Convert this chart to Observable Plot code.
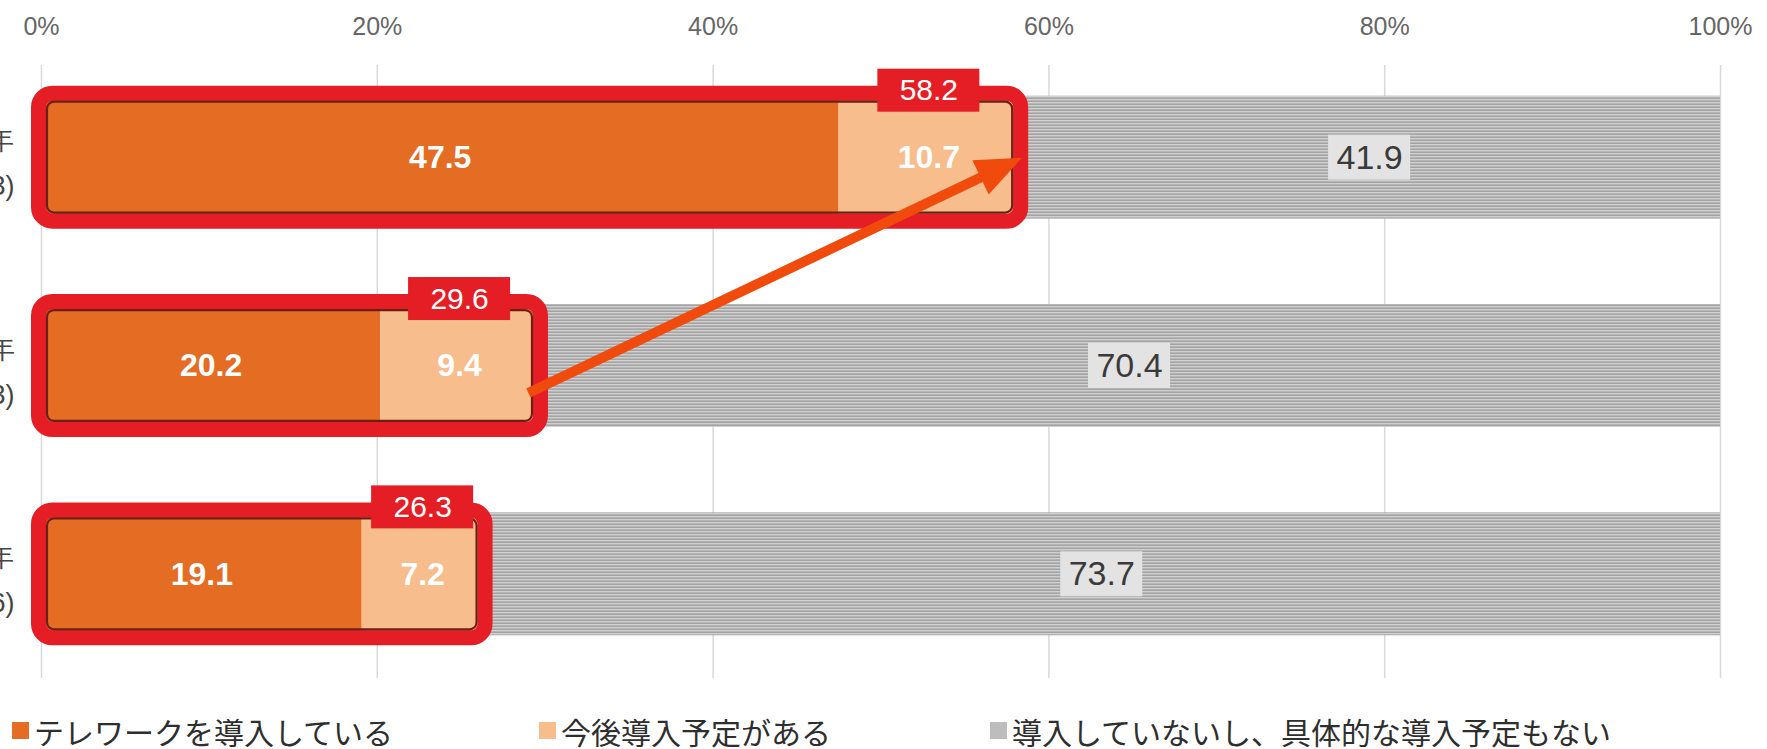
<!DOCTYPE html>
<html>
<head>
<meta charset="utf-8">
<script src="https://cdn.jsdelivr.net/npm/d3@7"></script>
<script src="https://cdn.jsdelivr.net/npm/@observablehq/plot@0.6"></script>
<style>
  html, body { margin: 0; padding: 0; background: #fff; }
  body { width: 1767px; height: 749px; overflow: hidden; font-family: "Liberation Sans", Arial, sans-serif; }
  #legend { position: relative; height: 49px; }
  .item { position: absolute; top: 6px; height: 49px; display: flex; align-items: center;
          font-family: "Noto Sans CJK JP", sans-serif; font-size: 30px; color: #2e2e2e; white-space: nowrap; }
  .sw { display: inline-block; width: 17px; height: 17px; margin-right: 5px; }
</style>
</head>
<body>
<div id="chart"></div>
<div id="legend"></div>
<script>
// ---- data ----
const categories = ["令和2年\n(n=2,223)", "令和元年\n(n=2,123)", "平成30年\n(n=2,106)"];
const introduced = [47.5, 20.2, 19.1];   // テレワークを導入している
const planned    = [10.7, 9.4, 7.2];     // 今後導入予定がある
const none       = [41.9, 70.4, 73.7];   // 導入していないし、具体的な導入予定もない
const totals     = [58.2, 29.6, 26.3];   // 導入している + 予定がある
const xTicks     = [0, 20, 40, 60, 80, 100];
const seriesNames = ["テレワークを導入している", "今後導入予定がある", "導入していないし、具体的な導入予定もない"];

// ---- styles ----
const COLORS = ["#e46c23", "#f7bd8c", "url(#grayStripes)"];
const LEGEND_COLORS = ["#e46c23", "#f7bd8c", "#bdbdbd"];
const RED = "#e51e25";
const W = 1767, H = 700, ML = 41, MR = 47, MT = 53, MB = 22;
const HALF = 0.295;

// ---- table ----
const rows = categories.flatMap((c, i) => {
  const a = introduced[i], b = planned[i], n = none[i];
  return [
    {i, s: 0, x1: 0, x2: a, v: a},
    {i, s: 1, x1: a, x2: a + b, v: b},
    {i, s: 2, x1: a + b, x2: Math.min(100, a + b + n), v: n}
  ];
});
const tot = categories.map((c, i) => ({i, total: totals[i], mid: introduced[i] + planned[i] / 2}));
const cats = categories.map((c, i) => ({i, label: c}));

// ---- pixel mapping identical to the plot's scales (y reversed: first row on top) ----
const xPix = v => ML + (v - 0) / 100 * (W - MR - ML);
const yPix = v => (H - MB) - (v + 0.5) / 3 * (H - MB - MT);

// ---- arrow (from 2nd bar total to 1st bar total) ----
const tail = {x: totals[1] - 0.6, y: 1 - 0.13};
const tip = {x: totals[0] + 0.2, y: 2};
const dxp = xPix(tip.x) - xPix(tail.x);
const dyp = yPix(tip.y) - yPix(tail.y);
const len = Math.hypot(dxp, dyp);
const theta = Math.atan2(dxp, -dyp);
const f = 1 - 36 / len;
const shaftEnd = {x: tail.x + (tip.x - tail.x) * f, y: tail.y + (tip.y - tail.y) * f};
const headPts = [[0, 0], [-19, 46], [19, 46]].map(([x, y]) => [
  x * Math.cos(theta) - y * Math.sin(theta),
  x * Math.sin(theta) + y * Math.cos(theta)
]);
const arrowHead = {
  draw(ctx) {
    ctx.moveTo(headPts[0][0], headPts[0][1]);
    ctx.lineTo(headPts[1][0], headPts[1][1]);
    ctx.lineTo(headPts[2][0], headPts[2][1]);
    ctx.closePath();
  }
};

// rows are placed top-to-bottom: row index i -> y = 2 - i
const ry = i => 2 - i;

const chart = Plot.plot({
  width: W, height: H,
  marginLeft: ML, marginRight: MR, marginTop: MT, marginBottom: MB,
  x: {domain: [0, 100], axis: null},
  y: {domain: [-0.5, 2.5], axis: null},
  style: {fontFamily: "'Liberation Sans', Arial, sans-serif", background: "#fff", overflow: "hidden"},
  marks: [
    // grid
    Plot.ruleX(xTicks, {x: d => d, y1: -0.5, y2: 2.443, stroke: "#d9d9d9", strokeWidth: 1.5}),
    // top tick labels
    Plot.text(xTicks, {x: d => d, frameAnchor: "top", dy: -36, text: d => `${d}%`, fontSize: 25, fill: "#666"}),
    // category labels (cut off at the left edge, as in the source image)
    Plot.text(cats, {y: d => ry(d.i), frameAnchor: "left", dx: -27, text: "label", textAnchor: "end", fontSize: 27, lineHeight: 1.7, fill: "#444"}),
    // bars
    ...[0, 1, 2].map(s => Plot.rect(rows.filter(d => d.s === s), {
      x1: "x1", x2: "x2", y1: d => ry(d.i) - HALF, y2: d => ry(d.i) + HALF, fill: COLORS[s]
    })),
    // red frame around introduced + planned
    Plot.rect(tot, {x1: 0, x2: "total", y1: d => ry(d.i) - HALF, y2: d => ry(d.i) + HALF,
      fill: "none", stroke: RED, strokeWidth: 15, rx: 14, inset: -2.5}),
    Plot.rect(tot, {x1: 0, x2: "total", y1: d => ry(d.i) - HALF, y2: d => ry(d.i) + HALF,
      fill: "none", stroke: "#6e1f14", strokeWidth: 2.2, rx: 7, inset: 6}),
    // value labels
    Plot.text(rows.filter(d => d.s < 2), {x: d => (d.x1 + d.x2) / 2, y: d => ry(d.i), text: d => d.v.toFixed(1),
      fill: "#fff", fontSize: 32, fontWeight: "bold"}),
    Plot.rect(rows.filter(d => d.s === 2), {x1: d => (d.x1 + d.x2) / 2, x2: d => (d.x1 + d.x2) / 2, y1: d => ry(d.i), y2: d => ry(d.i),
      fill: "#e3e3e3", insetLeft: -41, insetRight: -41, insetTop: -22.5, insetBottom: -22.5}),
    Plot.text(rows.filter(d => d.s === 2), {x: d => (d.x1 + d.x2) / 2, y: d => ry(d.i), text: d => d.v.toFixed(1),
      fill: "#3a3a3a", fontSize: 34}),
    // total labels
    Plot.rect(tot, {x1: "mid", x2: "mid", y1: d => ry(d.i) + HALF, y2: d => ry(d.i) + HALF,
      fill: RED, insetLeft: -51, insetRight: -51, insetTop: -27, insetBottom: -16}),
    Plot.text(tot, {x: "mid", y: d => ry(d.i) + HALF, dy: -5.5, text: d => d.total.toFixed(1), fill: "#fff", fontSize: 30}),
    // arrow
    Plot.link([0], {x1: () => tail.x, y1: () => tail.y, x2: () => shaftEnd.x, y2: () => shaftEnd.y,
      stroke: "#f04b0c", strokeWidth: 10, strokeLinecap: "butt"}),
    Plot.dot([0], {x: () => tip.x, y: () => tip.y, symbol: arrowHead, r: 10, fill: "#f04b0c", stroke: "none"})
  ]
});

// stripe pattern for the gray segment
const defs = d3.select(chart).insert("defs", ":first-child");
const pat = defs.append("pattern").attr("id", "grayStripes").attr("patternUnits", "userSpaceOnUse")
  .attr("width", 12).attr("height", 3);
pat.append("rect").attr("x", 0).attr("y", 0).attr("width", 12).attr("height", 1).attr("fill", "#d0d0d0");
pat.append("rect").attr("x", 0).attr("y", 1).attr("width", 12).attr("height", 1).attr("fill", "#b5b5b5");
pat.append("rect").attr("x", 0).attr("y", 2).attr("width", 12).attr("height", 1).attr("fill", "#a3a3a3");

document.getElementById("chart").appendChild(chart);

// legend
const legendPos = [[12, 35], [539, 560], [990, 1011]];
const legend = d3.select("#legend");
seriesNames.forEach((name, k) => {
  const it = legend.append("div").attr("class", "item").style("left", legendPos[k][0] + "px");
  it.append("span").attr("class", "sw").style("background", LEGEND_COLORS[k]);
  it.append("span").text(name);
});
</script>
</body>
</html>
